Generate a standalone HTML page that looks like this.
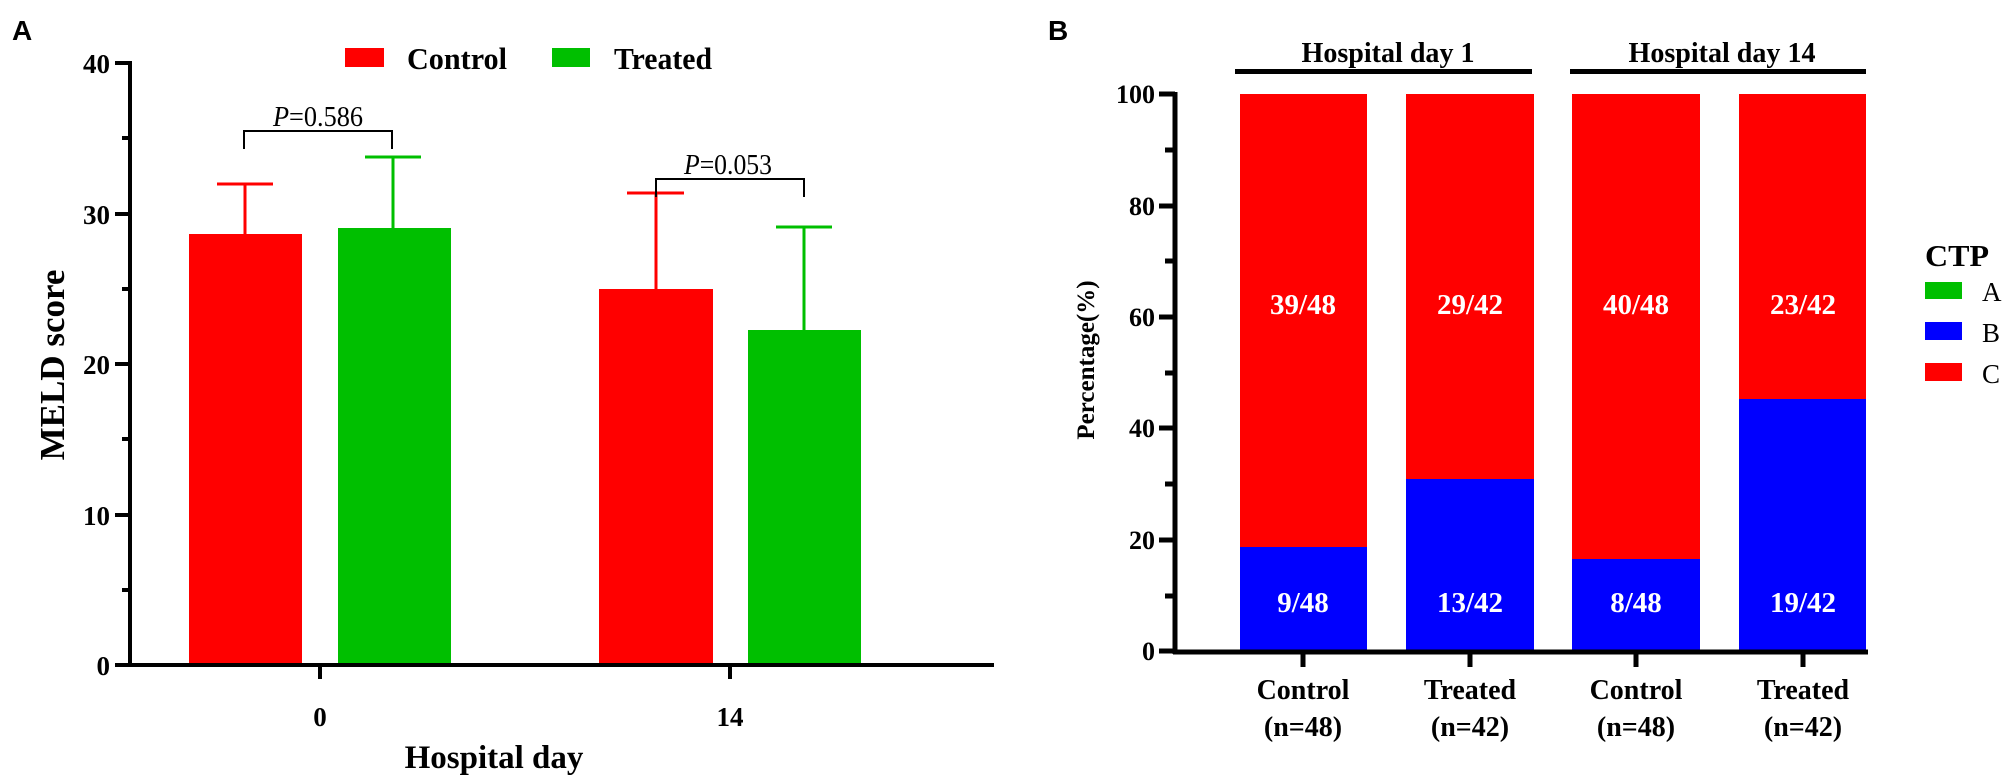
<!DOCTYPE html>
<html><head><meta charset="utf-8"><style>
html,body{margin:0;padding:0;background:#fff;}
svg{display:block;}
text{font-family:"Liberation Serif",serif;font-weight:bold;fill:#000;}
text.w{fill:#fff;}
text.n{font-weight:normal;}
</style></head><body>
<svg width="2008" height="777" viewBox="0 0 2008 777" xmlns="http://www.w3.org/2000/svg">
<!-- Panel A -->
<text x="12" y="40" style="font-family:'Liberation Sans',sans-serif;font-size:28px">A</text>
<rect x="345" y="48" width="39" height="19" fill="#ff0000"/>
<text x="407" y="69" font-size="31" textLength="100" lengthAdjust="spacingAndGlyphs">Control</text>
<rect x="552" y="48" width="38" height="19" fill="#00bf00"/>
<text x="614" y="69" font-size="31" textLength="98" lengthAdjust="spacingAndGlyphs">Treated</text>
<rect x="189" y="234" width="113" height="431" fill="#ff0000"/>
<rect x="338" y="228" width="113" height="437" fill="#00bf00"/>
<rect x="599" y="289" width="114" height="376" fill="#ff0000"/>
<rect x="748" y="330" width="113" height="335" fill="#00bf00"/>
<g stroke-width="3">
<line x1="245" y1="184" x2="245" y2="234" stroke="#ff0000"/><line x1="217" y1="184" x2="273" y2="184" stroke="#ff0000"/>
<line x1="393" y1="157" x2="393" y2="228" stroke="#00bf00"/><line x1="365" y1="157" x2="421" y2="157" stroke="#00bf00"/>
<line x1="656" y1="193" x2="656" y2="289" stroke="#ff0000"/><line x1="627" y1="193" x2="684" y2="193" stroke="#ff0000"/>
<line x1="804" y1="227" x2="804" y2="330" stroke="#00bf00"/><line x1="776" y1="227" x2="832" y2="227" stroke="#00bf00"/>
</g>
<polyline points="244,149 244,131 392,131 392,149" fill="none" stroke="#000" stroke-width="2"/>
<text class="n" x="318" y="126" font-size="28" text-anchor="middle" textLength="90" lengthAdjust="spacingAndGlyphs"><tspan font-style="italic">P</tspan>=0.586</text>
<polyline points="656,197 656,179 804,179 804,197" fill="none" stroke="#000" stroke-width="2"/>
<text class="n" x="728" y="174" font-size="28" text-anchor="middle" textLength="88" lengthAdjust="spacingAndGlyphs"><tspan font-style="italic">P</tspan>=0.053</text>
<g stroke="#000" stroke-width="4">
<line x1="130" y1="61" x2="130" y2="667"/>
<line x1="128" y1="665" x2="994" y2="665"/>
<line x1="115" y1="63" x2="130" y2="63"/><line x1="122" y1="138" x2="130" y2="138"/>
<line x1="115" y1="214" x2="130" y2="214"/><line x1="122" y1="289" x2="130" y2="289"/>
<line x1="115" y1="364" x2="130" y2="364"/><line x1="122" y1="439" x2="130" y2="439"/>
<line x1="115" y1="515" x2="130" y2="515"/><line x1="122" y1="590" x2="130" y2="590"/>
<line x1="115" y1="665" x2="130" y2="665"/>
<line x1="320" y1="665" x2="320" y2="679"/><line x1="730" y1="665" x2="730" y2="679"/>
</g>
<g font-size="27" text-anchor="end">
<text x="110" y="73">40</text><text x="110" y="224">30</text><text x="110" y="374">20</text><text x="110" y="525">10</text><text x="110" y="675">0</text>
</g>
<g font-size="27" text-anchor="middle">
<text x="320" y="726">0</text><text x="730" y="726">14</text>
</g>
<text x="494" y="768" font-size="33" text-anchor="middle">Hospital day</text>
<text transform="translate(64,365) rotate(-90)" font-size="35" text-anchor="middle">MELD score</text>

<!-- Panel B -->
<text x="1048" y="40" style="font-family:'Liberation Sans',sans-serif;font-size:28px">B</text>
<rect x="1235" y="69" width="297" height="5" fill="#000"/>
<rect x="1570" y="69" width="296" height="5" fill="#000"/>
<text x="1388" y="62" font-size="28" text-anchor="middle" textLength="173" lengthAdjust="spacingAndGlyphs">Hospital day 1</text>
<text x="1722" y="62" font-size="28" text-anchor="middle" textLength="187" lengthAdjust="spacingAndGlyphs">Hospital day 14</text>
<rect x="1240" y="94" width="127" height="557" fill="#ff0000"/>
<rect x="1240" y="547" width="127" height="104" fill="#0000ff"/>
<rect x="1406" y="94" width="128" height="557" fill="#ff0000"/>
<rect x="1406" y="479" width="128" height="172" fill="#0000ff"/>
<rect x="1572" y="94" width="128" height="557" fill="#ff0000"/>
<rect x="1572" y="559" width="128" height="92" fill="#0000ff"/>
<rect x="1739" y="94" width="127" height="557" fill="#ff0000"/>
<rect x="1739" y="399" width="127" height="252" fill="#0000ff"/>
<g font-size="29" text-anchor="middle">
<text class="w" x="1303" y="314">39/48</text><text class="w" x="1470" y="314">29/42</text>
<text class="w" x="1636" y="314">40/48</text><text class="w" x="1803" y="314">23/42</text>
<text class="w" x="1303" y="612">9/48</text><text class="w" x="1470" y="612">13/42</text>
<text class="w" x="1636" y="612">8/48</text><text class="w" x="1803" y="612">19/42</text>
</g>
<g stroke="#000" stroke-width="5">
<line x1="1175" y1="92" x2="1175" y2="654"/>
<line x1="1173" y1="652" x2="1868" y2="652"/>
<line x1="1159" y1="94" x2="1175" y2="94"/><line x1="1165" y1="150" x2="1175" y2="150"/>
<line x1="1159" y1="206" x2="1175" y2="206"/><line x1="1165" y1="261" x2="1175" y2="261"/>
<line x1="1159" y1="317" x2="1175" y2="317"/><line x1="1165" y1="373" x2="1175" y2="373"/>
<line x1="1159" y1="428" x2="1175" y2="428"/><line x1="1165" y1="484" x2="1175" y2="484"/>
<line x1="1159" y1="540" x2="1175" y2="540"/><line x1="1165" y1="596" x2="1175" y2="596"/>
<line x1="1159" y1="651" x2="1175" y2="651"/>
<line x1="1303" y1="652" x2="1303" y2="667"/><line x1="1470" y1="652" x2="1470" y2="667"/>
<line x1="1636" y1="652" x2="1636" y2="667"/><line x1="1803" y1="652" x2="1803" y2="667"/>
</g>
<g font-size="26" text-anchor="end">
<text x="1155" y="103">100</text><text x="1155" y="215">80</text><text x="1155" y="326">60</text>
<text x="1155" y="437">40</text><text x="1155" y="549">20</text><text x="1155" y="660">0</text>
</g>
<g font-size="28" text-anchor="middle">
<text x="1303" y="699">Control</text><text x="1303" y="736">(n=48)</text>
<text x="1470" y="699">Treated</text><text x="1470" y="736">(n=42)</text>
<text x="1636" y="699">Control</text><text x="1636" y="736">(n=48)</text>
<text x="1803" y="699">Treated</text><text x="1803" y="736">(n=42)</text>
</g>
<text transform="translate(1094,360) rotate(-90)" font-size="25" text-anchor="middle">Percentage(%)</text>
<text x="1925" y="266" font-size="31" textLength="64" lengthAdjust="spacingAndGlyphs">CTP</text>
<rect x="1925" y="282" width="37" height="17" fill="#00bf00"/>
<rect x="1925" y="322" width="37" height="18" fill="#0000ff"/>
<rect x="1925" y="363" width="37" height="18" fill="#ff0000"/>
<g font-size="27">
<text class="n" x="1982" y="301">A</text><text class="n" x="1982" y="342">B</text><text class="n" x="1982" y="383">C</text>
</g>
</svg>
</body></html>
